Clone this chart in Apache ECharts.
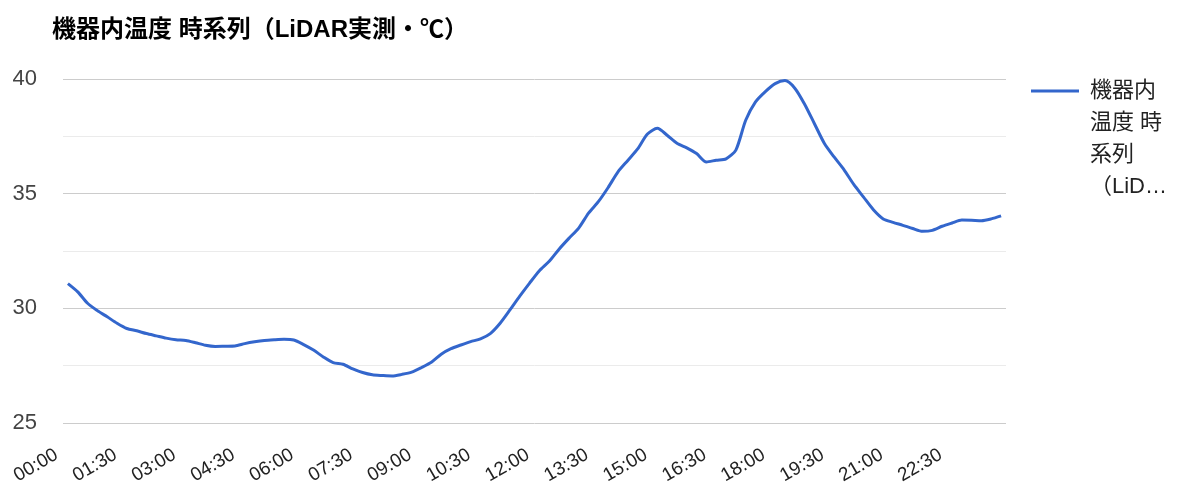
<!DOCTYPE html>
<html>
<head>
<meta charset="utf-8">
<style>
  html, body { margin: 0; padding: 0; background: #fff; }
  #chart { width: 1184px; height: 492px; }
</style>
<script src="https://cdn.jsdelivr.net/npm/echarts@6/dist/echarts.min.js"></script>
</head>
<body>
<div id="chart"></div>
<script>
// Equipment internal temperature, sampled every 15 minutes over one day
const seriesName = '機器内温度 時系列（LiDAR実測・℃）';
const legendLines = ['機器内', '温度 時', '系列', '（LiD…'];

const times = [];
for (let h = 0; h < 24; h++) {
  for (let m = 0; m < 60; m += 15) {
    times.push(String(h).padStart(2, '0') + ':' + String(m).padStart(2, '0'));
  }
}

const temperature = [
  31.08, 30.72, 30.22, 29.90, 29.63, 29.35, 29.12, 29.02, 28.90, 28.80, 28.70, 28.63,
  28.60, 28.50, 28.39, 28.34, 28.35, 28.36, 28.46, 28.54, 28.60, 28.63, 28.65, 28.62,
  28.42, 28.18, 27.88, 27.63, 27.56, 27.36, 27.20, 27.10, 27.07, 27.05, 27.12, 27.22,
  27.42, 27.65, 28.00, 28.24, 28.40, 28.55, 28.67, 28.90, 29.35, 29.93, 30.53, 31.10,
  31.64, 32.05, 32.58, 33.05, 33.50, 34.15, 34.65, 35.27, 35.95, 36.45, 36.95, 37.60,
  37.85, 37.55, 37.20, 37.00, 36.75, 36.38, 36.46, 36.52, 36.90, 38.20, 39.00, 39.45,
  39.80, 39.93, 39.60, 38.90, 38.05, 37.20, 36.60, 36.05, 35.40, 34.85, 34.30, 33.90,
  33.75, 33.62, 33.48, 33.36, 33.40, 33.58, 33.72, 33.85, 33.84, 33.82, 33.90, 34.03
];

const yMin = 25, yMax = 40, yStep = 5;

const FONT = 'Arial, "Liberation Sans", "Noto Sans CJK JP", sans-serif';

// Legend text: three spacer rows above keep the swatch level with the first line
const legendText = () =>
  ['{e| }', '{e| }', '{e| }'].concat(legendLines.map(s => '{t|' + s + '}')).join('\n');

const chart = echarts.init(document.getElementById('chart'));
chart.setOption({
  animation: false,
  textStyle: { fontFamily: FONT },
  title: {
    text: seriesName,
    left: 52,
    top: 18,
    padding: 0,
    textStyle: { fontSize: 24, fontWeight: 'bold', color: '#000', fontFamily: FONT }
  },
  legend: {
    left: 1031,
    top: -21,
    padding: 0,
    orient: 'vertical',
    icon: 'rect',
    itemWidth: 48,
    itemHeight: 3,
    formatter: legendText,
    textStyle: {
      fontSize: 22,
      lineHeight: 32,
      color: '#222',
      fontFamily: FONT,
      rich: {
        e: { fontSize: 22, lineHeight: 32 },
        t: { fontSize: 22, lineHeight: 32, color: '#222', padding: [0, 0, 0, 6], fontFamily: FONT }
      }
    },
    data: [seriesName]
  },
  grid: {
    left: 63, right: 178, top: 79, bottom: 69,
    containLabel: false,
    outerBoundsMode: 'none'
  },
  xAxis: {
    type: 'category',
    data: times,
    boundaryGap: true,
    axisLine: { show: false },
    axisTick: { show: false },
    axisLabel: {
      interval: 5,
      rotate: 30,
      margin: 24,
      padding: [0, 13, 0, 0],
      fontSize: 19,
      color: '#222',
      fontFamily: FONT
    },
    splitLine: { show: false }
  },
  yAxis: {
    type: 'value',
    min: yMin,
    max: yMax,
    interval: yStep,
    axisLine: { show: false },
    axisTick: { show: false },
    axisLabel: { fontSize: 22, color: '#444', margin: 26, fontFamily: FONT },
    splitLine: { lineStyle: { color: '#cccccc', width: 1 } },
    minorTick: { show: false, splitNumber: 2 },
    minorSplitLine: { show: true, lineStyle: { color: '#ebebeb', width: 1 } }
  },
  series: [{
    name: seriesName,
    type: 'line',
    data: temperature,
    smooth: 0.25,
    showSymbol: false,
    symbol: 'none',
    lineStyle: { color: '#3366cc', width: 3 },
    itemStyle: { color: '#3366cc' }
  }]
});
</script>
</body>
</html>
